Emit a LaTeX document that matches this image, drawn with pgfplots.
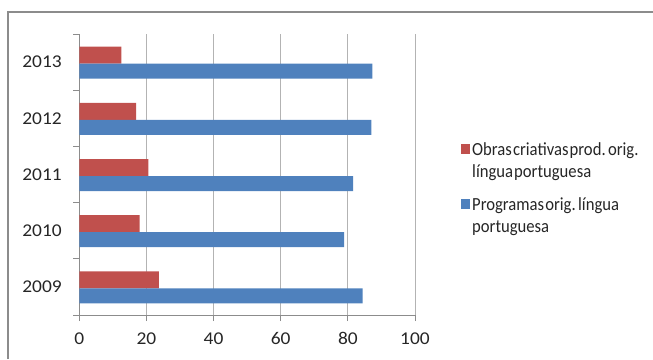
\documentclass[border=0pt]{standalone}
\usepackage{pgfplots}
\pgfplotsset{compat=1.18}
\usepackage{fontspec}
\setmainfont{Carlito}[WordSpace=0.3]
\newfontfamily\tickfont{Carlito}[FakeStretch=1.08]
\newfontfamily\legfont{Carlito}[FakeStretch=0.9, WordSpace=0.3]
\definecolor{cred}{HTML}{C0504D}
\definecolor{cblue}{HTML}{4F81BD}
\definecolor{cgrid}{HTML}{B3B3B3}
\definecolor{caxis}{HTML}{8C8C8C}
\definecolor{ctext}{HTML}{262626}
\begin{document}
\begin{tikzpicture}[x=1bp,y=1bp]
\useasboundingbox (0,0) rectangle (653,359);
\draw[color=caxis, line width=2bp] (8,0) -- (8,347) -- (653,347);
\begin{axis}[
  at={(79.3bp,44bp)}, anchor=south west,
  scale only axis, width=335.7bp, height=281bp,
  xbar, xmin=0, xmax=100, ymin=-0.5, ymax=4.5,
  axis lines*=left,
  axis line style={color=caxis, line width=0.8bp},
  xtick={0,20,...,100},
  ytick={-0.5,0.5,...,4.5}, yticklabels={},
  extra y ticks={0,1,2,3,4},
  extra y tick labels={2009,2010,2011,2012,2013},
  extra y tick style={major tick length=0pt, yticklabel style={xshift=-14bp}},
  tick align=outside, major tick length=6bp,
  tick style={color=caxis, line width=0.8bp},
  xmajorgrids, major grid style={color=cgrid, line width=0.8bp},
  /pgf/number format/assume math mode=true,
  ticklabel style={font=\tickfont\fontsize{18bp}{20bp}\selectfont, text=ctext},
  xticklabel style={yshift=-8bp},
  legend style={at={(1.137,0.62)}, anchor=north west, draw=none, fill=none,
    font=\legfont\fontsize{18.5bp}{21.5bp}\selectfont, text=ctext, inner sep=0pt,
    cells={anchor=west, align=left}, row sep=15bp},
  legend image code/.code={\fill[#1] (0bp,7bp) rectangle (9bp,17bp);},
]
\addplot[fill=cred, draw=none, bar width=17bp, bar shift=7bp] coordinates {
  (23.7,0) (18.0,1) (20.6,2) (16.9,3) (12.5,4)};
\addlegendentry{Obras criativas prod. orig.\\língua portuguesa}
\addplot[fill=cblue, draw=none, bar width=15bp, bar shift=-9bp] coordinates {
  (84.4,0) (78.9,1) (81.6,2) (87.0,3) (87.3,4)};
\addlegendentry{Programas orig. língua\\portuguesa}
\end{axis}
\end{tikzpicture}
\end{document}
